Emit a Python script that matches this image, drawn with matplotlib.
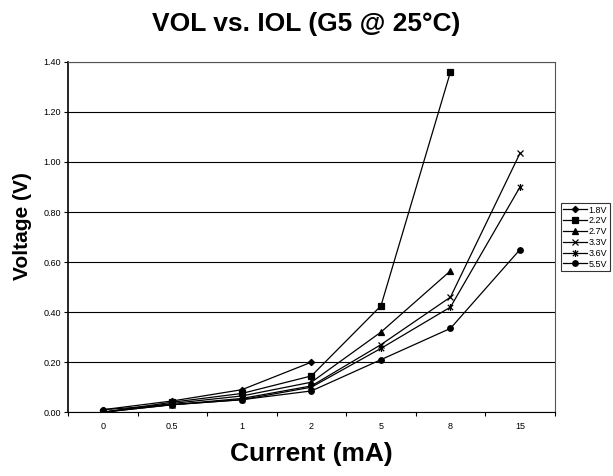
import matplotlib.pyplot as plt
import numpy as np
from matplotlib.path import Path

plt.rcParams["font.family"] = ["Liberation Sans", "DejaVu Sans"]

# current categories (mA) - plotted as evenly spaced categories
currents = ["0", "0.5", "1", "2", "5", "8", "15"]

# VOL readings per supply voltage (nan = not measured)
v18 = [0.01, 0.045, 0.09, 0.20, np.nan, np.nan, np.nan]
v22 = [0.00, 0.04, 0.075, 0.145, 0.425, 1.36, np.nan]
v27 = [0.00, 0.035, 0.065, 0.12, 0.32, 0.565, np.nan]
v33 = [0.00, 0.03, 0.055, 0.105, 0.27, 0.46, 1.035]
v36 = [0.00, 0.03, 0.05, 0.10, 0.255, 0.42, 0.90]
v55 = [0.01, 0.03, 0.05, 0.085, 0.21, 0.335, 0.65]
labels = ["1.8V", "2.2V", "2.7V", "3.3V", "3.6V", "5.5V"]

# excel style star marker (x with a vertical bar)
star = Path([(-1, -1), (1, 1), (-1, 1), (1, -1), (0, -1.3), (0, 1.3)],
            [Path.MOVETO, Path.LINETO, Path.MOVETO, Path.LINETO, Path.MOVETO, Path.LINETO])

markers = ["D", "s", "^", "x", star, "o"]
msizes = [3.2, 4.5, 4.5, 5, 5, 4]

fig = plt.figure(figsize=(6.13, 4.76), dpi=100)
ax = fig.add_axes([0.111, 0.134, 0.794, 0.736])

x = np.arange(len(currents))
for data, lab, m, ms in zip([v18, v22, v27, v33, v36, v55], labels, markers, msizes):
    ax.plot(x, data, color="black", lw=0.9, marker=m, markersize=ms,
            markeredgewidth=0.9, label=lab)

ax.set_xlim(-0.5, len(currents) - 0.5)
ax.set_ylim(0, 1.4)
ax.set_yticks(np.arange(0, 1.41, 0.2))
ax.set_yticklabels([f"{v:.2f}" for v in np.arange(0, 1.41, 0.2)], fontsize=6.5)
ax.set_xticks(x)
ax.set_xticklabels(currents, fontsize=6.5)
ax.set_xticks(np.arange(-0.5, len(currents), 1), minor=True)
ax.tick_params(axis="x", which="major", length=0, pad=7)
ax.tick_params(axis="x", which="minor", length=3, width=0.8, direction="out")
ax.tick_params(axis="y", length=3, width=0.8, direction="out", pad=2)
ax.yaxis.grid(True, color="black", lw=0.8)
ax.set_axisbelow(True)
for s in ax.spines.values():
    s.set_linewidth(0.8)
    s.set_color("#555555")
ax.spines["left"].set_color("black")
ax.spines["bottom"].set_color("black")
ax.spines["left"].set_linewidth(1.2)

ax.set_xlabel("Current (mA)", fontsize=19, fontweight="bold", labelpad=8)
ax.set_ylabel("Voltage (V)", fontsize=15, fontweight="bold")
ax.yaxis.set_label_coords(-0.075, 0.53)
fig.suptitle("VOL vs. IOL (G5 @ 25°C)", fontsize=19, fontweight="bold", y=0.975)

leg = ax.legend(loc="center left", bbox_to_anchor=(1.012, 0.5), fontsize=6.5,
                frameon=True, fancybox=False, edgecolor="black", handlelength=2.6,
                borderpad=0.3, labelspacing=0.2, handletextpad=0.2, borderaxespad=0)
leg.get_frame().set_linewidth(0.8)

plt.savefig("out.png", dpi=100)
